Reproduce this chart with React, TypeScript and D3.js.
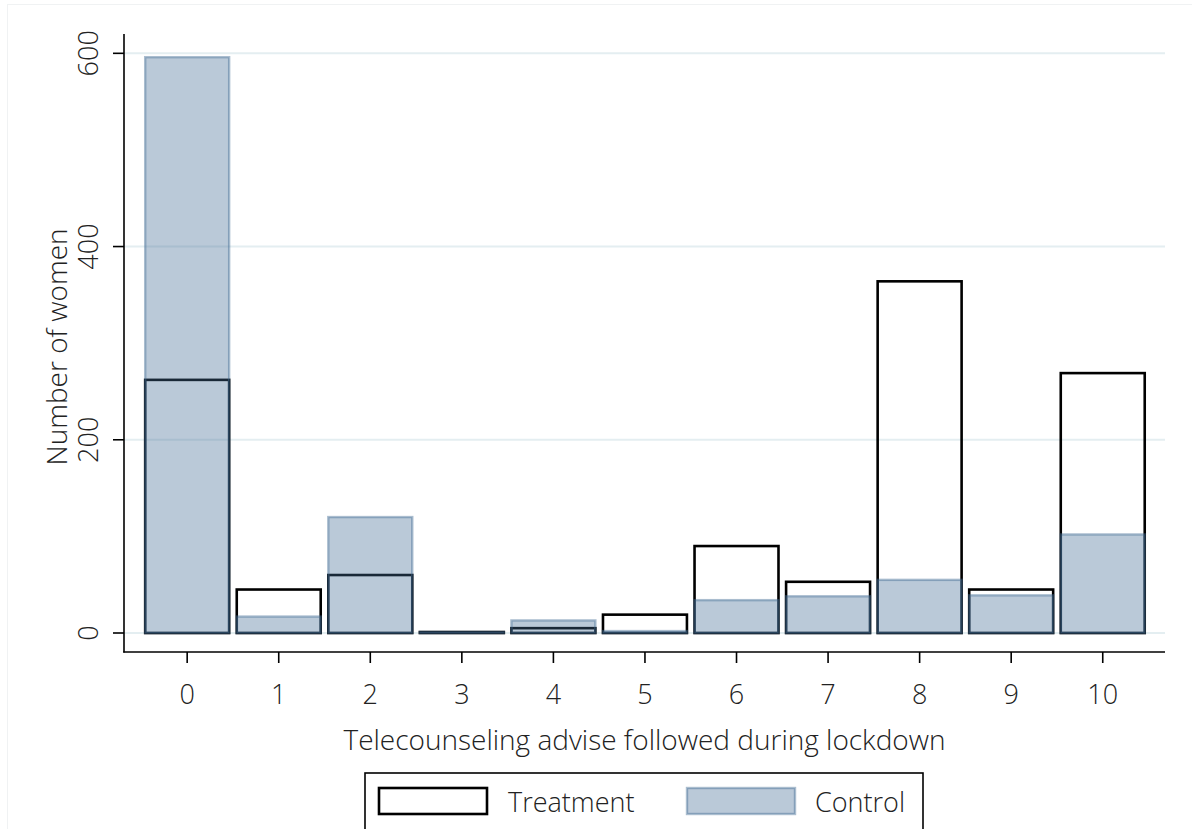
import React from "react";
import * as d3 from "d3";

const categories = [0, 1, 2, 3, 4, 5, 6, 7, 8, 9, 10];
const treatment = [262, 45, 60, 1, 5, 19, 90, 53, 364, 45, 269];
const control = [596, 17, 120, 1, 13, 2, 34, 38, 55, 39, 102];
const yTicks = [0, 200, 400, 600];
const seriesNames = ["Treatment", "Control"];

const W = 1192;
const H = 829;
const FONT = "'Open Sans', 'Noto Sans', sans-serif";
const CTRL = "rgb(67,108,149)";

export default function App() {
  const x = d3.scaleLinear().domain([-0.69, 10.68]).range([124, 1165]);
  const y = d3.scaleLinear().domain([0, 620]).range([633, 34]);
  const barW = 86 / 91.6;

  return (
    <svg width={W} height={H} style={{ position: "absolute", left: 0, top: 0, background: "#fff" }}>
      <rect x={7.5} y={4.5} width={W} height={H} fill="#fff" stroke="#f0f2f3" strokeWidth={1} />
      {/* gridlines */}
      {yTicks.map((t) => (
        <line key={"g" + t} x1={124} x2={1165} y1={y(t)} y2={y(t)} stroke="#e4eef1" strokeWidth={2} />
      ))}
      {/* treatment bars */}
      {categories.map((c, i) => {
        const x0 = x(c - barW / 2);
        const x1 = x(c + barW / 2);
        return (
          <rect
            key={"t" + c}
            x={x0 + 1}
            y={y(treatment[i])}
            width={x1 - x0 - 2}
            height={Math.max(0, y(0) - y(treatment[i]))}
            fill="none"
            stroke="#000"
            strokeWidth={2.6}
          />
        );
      })}
      {/* control bars */}
      {categories.map((c, i) => {
        const x0 = x(c - barW / 2);
        const x1 = x(c + barW / 2);
        return (
          <rect
            key={"c" + c}
            x={x0 + 1}
            y={y(control[i])}
            width={x1 - x0 - 2}
            height={Math.max(0, y(0) - y(control[i]))}
            fill={CTRL}
            fillOpacity={0.37}
            stroke={CTRL}
            strokeOpacity={0.45}
            strokeWidth={2.4}
          />
        );
      })}
      {/* y axis */}
      <line x1={124} x2={124} y1={34} y2={652.5} stroke="#000" strokeWidth={1.6} />
      {yTicks.map((t) => (
        <g key={"yt" + t}>
          <line x1={113} x2={124} y1={y(t)} y2={y(t)} stroke="#000" strokeWidth={1.6} />
          <text
            transform={`translate(98,${y(t)}) rotate(-90)`}
            textAnchor="middle"
            fontFamily={FONT}
            fontWeight={300}
            fontSize={27}
            fill="#222"
          >
            {t}
          </text>
        </g>
      ))}
      <text
        transform={`translate(67,${347}) rotate(-90)`}
        textAnchor="middle"
        fontFamily={FONT}
        fontWeight={300}
        fontSize={28}
        fill="#222"
      >
        Number of women
      </text>
      {/* x axis */}
      <line x1={123.2} x2={1165} y1={652} y2={652} stroke="#000" strokeWidth={1.6} />
      {categories.map((c) => (
        <g key={"xt" + c}>
          <line x1={x(c)} x2={x(c)} y1={652} y2={663} stroke="#000" strokeWidth={1.6} />
          <text x={x(c)} y={704} textAnchor="middle" fontFamily={FONT} fontWeight={300} fontSize={27} fill="#222">
            {c}
          </text>
        </g>
      ))}
      <text x={644.5} y={750} textAnchor="middle" fontFamily={FONT} fontWeight={300} fontSize={28} fill="#222">
        Telecounseling advise followed during lockdown
      </text>
      {/* legend */}
      <rect x={365} y={773} width={558} height={60} fill="#fff" stroke="#000" strokeWidth={1.6} />
      <rect x={379} y={788} width={108} height={26} fill="none" stroke="#000" strokeWidth={2.6} />
      <text x={508} y={812} fontFamily={FONT} fontWeight={300} fontSize={27} fill="#222">
        {seriesNames[0]}
      </text>
      <rect
        x={687}
        y={788}
        width={108}
        height={26}
        fill={CTRL}
        fillOpacity={0.37}
        stroke={CTRL}
        strokeOpacity={0.45}
        strokeWidth={2.4}
      />
      <text x={815} y={812} fontFamily={FONT} fontWeight={300} fontSize={27} fill="#222">
        {seriesNames[1]}
      </text>
    </svg>
  );
}
